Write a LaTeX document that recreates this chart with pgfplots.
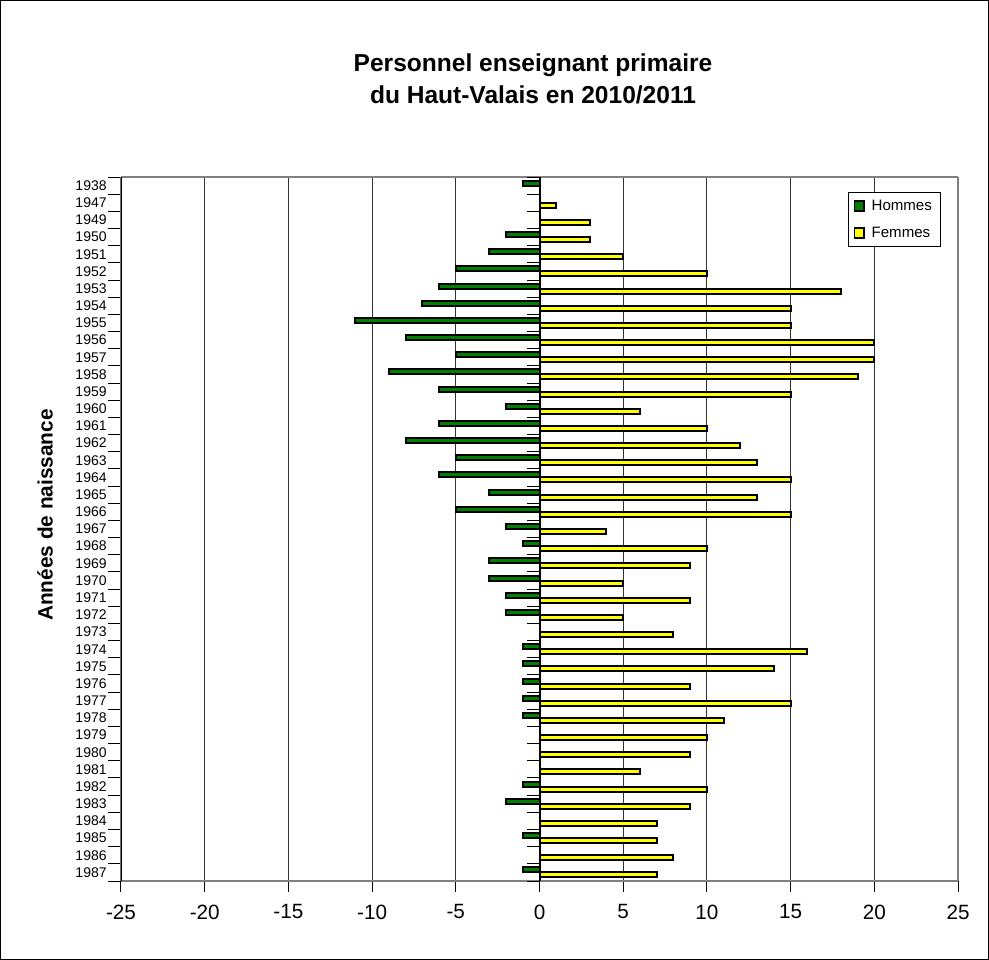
\documentclass[border=0pt]{standalone}
\usepackage{pgfplots}
\pgfplotsset{compat=1.18}
\usepackage{pgfplotstable}
\usepackage{fontspec}
\setmainfont{Liberation Sans}
\definecolor{hgreen}{RGB}{0,128,0}
\definecolor{fyellow}{RGB}{255,255,0}
\pgfplotstableread{
idx year hommes femmes
0 1938 -1 0
1 1947 0 1
2 1949 0 3
3 1950 -2 3
4 1951 -3 5
5 1952 -5 10
6 1953 -6 18
7 1954 -7 15
8 1955 -11 15
9 1956 -8 20
10 1957 -5 20
11 1958 -9 19
12 1959 -6 15
13 1960 -2 6
14 1961 -6 10
15 1962 -8 12
16 1963 -5 13
17 1964 -6 15
18 1965 -3 13
19 1966 -5 15
20 1967 -2 4
21 1968 -1 10
22 1969 -3 9
23 1970 -3 5
24 1971 -2 9
25 1972 -2 5
26 1973 0 8
27 1974 -1 16
28 1975 -1 14
29 1976 -1 9
30 1977 -1 15
31 1978 -1 11
32 1979 0 10
33 1980 0 9
34 1981 0 6
35 1982 -1 10
36 1983 -2 9
37 1984 0 7
38 1985 -1 7
39 1986 0 8
40 1987 -1 7
}\datatable
\begin{document}
\begin{tikzpicture}[x=0.75pt,y=0.75pt]
\draw[black, line width=0.75pt] (0.5,0.5) rectangle (988.5,959.5);
\node[font=\bfseries\fontsize{18.4}{24}\selectfont, align=center] at (533,881.5) {Personnel enseignant primaire\\du Haut-Valais en 2010/2011};
\node[font=\bfseries\fontsize{15.6}{18}\selectfont, rotate=90] at (45,445) {Années de naissance};
\begin{axis}[
  at={(90.75pt,59.25pt)}, anchor=south west,
  scale only axis, width=627.75pt, height=528pt,
  xmin=-25, xmax=25, ymin=-0.5, ymax=40.5, y dir=reverse,
  xtick={-25,-20,...,25},
  xticklabels={-25,-20,-15,-10,-5,0,5,10,15,20,25},
  ytick={0,...,40},
  yticklabels from table={\datatable}{year},
  minor ytick={-0.5,0.5,...,40.5},
  tick align=outside, xtick pos=left, ytick pos=left,
  major tick length=8.25pt, minor tick length=9.75pt,
  major y tick style={draw=none},
  minor y tick style={black, line width=0.75pt},
  major x tick style={black, line width=0.75pt},
  xmajorgrids, major x grid style={black!80, line width=0.75pt},
  x tick label style={font=\fontsize{15.5}{18}\selectfont, yshift=-6pt},
  y tick label style={font=\fontsize{10.5}{12}\selectfont, xshift=1pt},
  separate axis lines,
  x axis line style={black!50, line width=1.5pt},
  y axis line style={black!50, line width=1.5pt},
  legend style={at={(0.8686,0.9787)}, anchor=north west, draw=black, line width=0.6pt,
    font=\fontsize{11.3}{13}\selectfont, row sep=7pt, column sep=3pt, inner xsep=4pt, inner ysep=3.5pt,
    cells={anchor=west}},
  legend image code/.code={\draw[#1, line width=1.2pt] (0pt,-3.6pt) rectangle (7.2pt,3.6pt);},
]
\addplot[xbar, bar width=3.75pt, bar shift=1.875pt, fill=hgreen, draw=black, line width=1.5pt] table[x=hommes, y=idx]{\datatable};
\addplot[xbar, bar width=3.75pt, bar shift=-1.875pt, fill=fyellow, draw=black, line width=1.5pt] table[x=femmes, y=idx]{\datatable};
\legend{Hommes, Femmes}
\draw[black, line width=1.5pt] (axis cs:0,-0.5) -- (axis cs:0,40.5);
\pgfplotsinvokeforeach{0,...,41}{\draw[black, line width=0.75pt] (axis cs:-0.72,#1-0.5) -- (axis cs:0,#1-0.5);}
\draw[black, line width=1.5pt] (axis cs:-25,-0.5) -- (axis cs:-25,40.5);
\end{axis}
\pgfresetboundingbox
\useasboundingbox (0,0) rectangle (989,960);
\end{tikzpicture}
\end{document}
